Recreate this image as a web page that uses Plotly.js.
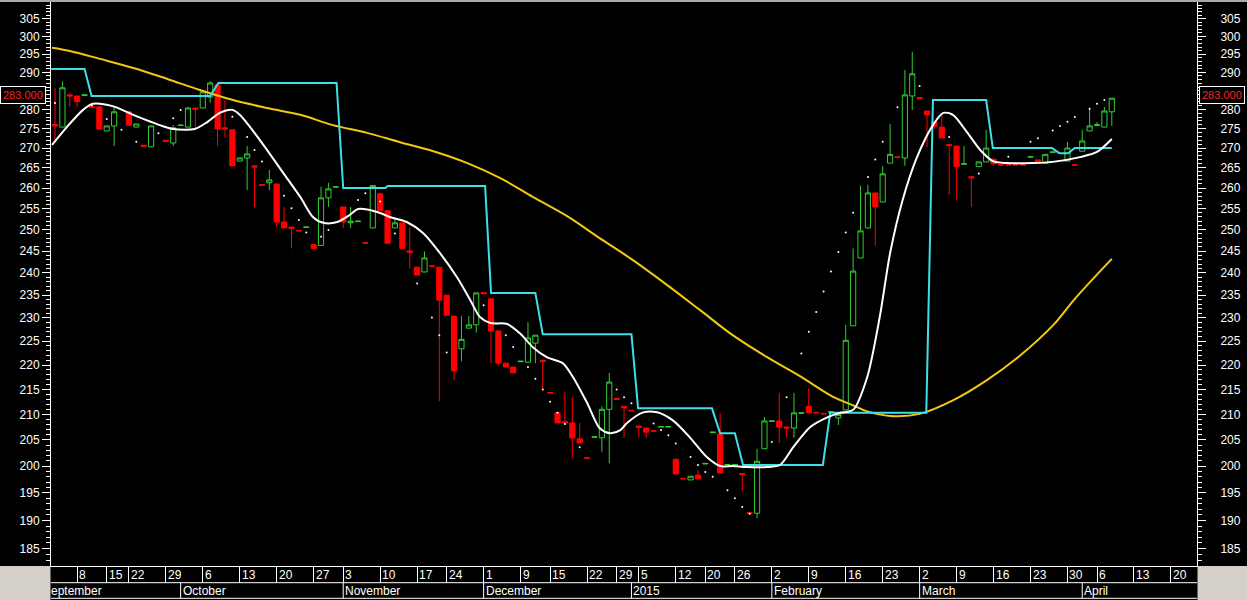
<!DOCTYPE html>
<html><head><meta charset="utf-8">
<script src="https://cdn.plot.ly/plotly-3.0.1.min.js"></script>
<style>html,body{margin:0;padding:0;background:#000;}#chart{width:1247px;height:600px;}</style>
</head><body><div id="chart"></div>
<script>
// ---- OHLC per trading day (index 0 = first visible session) ----
const opens = [276.1,275.4,283.9,283.6,283.7,280.8,280.7,274.4,275.7,null,
279.4,275.4,270.7,270.3,null,272.0,271.3,275.8,275.4,280.4,
280.4,283.3,286.6,275.2,274.7,266.7,267.5,265.5,260.9,261.3,
261.0,251.8,250.6,249.8,250.5,246.5,246.3,257.6,260.2,255.4,
251.6,251.9,246.9,250.4,258.6,254.5,250.4,251.6,245.0,241.3,
240.2,241.6,241.3,235.0,230.4,223.4,227.8,228.5,235.6,234.2,
227.2,220.4,219.6,220.7,220.6,224.6,221.0,214.4,210.3,208.6,
208.3,205.2,201.6,205.5,205.4,211.0,213.2,211.6,210.8,207.7,
207.3,206.8,207.5,207.5,201.3,197.7,197.4,198.3,200.4,206.4,
206.1,200.2,200.2,198.6,191.4,191.3,203.3,208.6,208.7,207.5,
207.3,210.2,211.6,210.4,210.2,210.4,209.3,210.9,228.3,243.4,
250.4,258.8,256.6,266.2,267.8,267.5,283.6,283.2,279.6,276.8,
275.4,270.9,270.5,265.9,262.8,265.3,266.5,267.2,265.8,265.8,
265.8,265.8,267.7,267.0,266.2,268.9,null,266.7,265.8,269.2,
274.4,275.8,275.4,279.4];
const highs = [285.8,287.5,284.3,283.6,283.9,280.8,280.7,275.7,280.7,null,
279.4,276.2,270.8,275.7,null,272.0,275.9,275.9,280.7,280.5,
284.7,287.6,286.6,282.5,274.7,267.5,270.5,265.5,261.0,264.5,
261.0,255.4,250.6,249.8,250.6,246.5,260.3,261.3,260.3,255.4,
255.4,252.0,246.9,260.6,258.6,254.5,252.8,251.6,250.4,241.3,
244.9,241.6,241.3,235.0,230.4,230.4,230.4,235.5,235.6,234.2,
227.2,220.4,219.6,220.8,229.1,226.3,221.0,214.4,210.3,214.5,
213.5,208.3,201.6,205.6,211.6,218.4,213.2,211.6,210.8,207.7,
207.3,206.8,207.6,207.6,201.3,197.7,198.1,199.2,200.5,206.5,
210.3,200.3,200.3,198.6,191.4,203.3,209.5,208.7,214.3,207.5,
214.3,210.3,215.2,210.4,210.2,210.6,210.0,228.5,245.6,260.6,
260.8,258.8,265.5,276.2,267.8,290.6,295.7,283.2,279.6,277.0,
278.6,270.9,270.5,270.5,262.8,266.5,274.7,267.2,265.8,265.8,
265.8,265.8,267.8,267.0,268.4,269.0,null,271.6,265.8,274.7,
280.4,276.7,280.7,283.0];
const lows = [271.3,275.4,280.7,280.7,283.7,280.5,274.9,274.4,270.5,null,
275.9,275.4,270.3,270.3,null,271.7,270.5,275.8,275.4,274.7,
280.4,281.8,270.5,272.8,265.5,266.7,259.5,255.4,260.7,259.5,
250.6,250.4,245.6,249.6,250.5,245.6,246.3,255.4,260.2,250.4,
250.4,251.9,246.8,250.4,254.5,246.8,250.4,245.6,240.9,239.5,
240.2,241.5,212.6,230.6,216.9,220.8,227.8,226.8,235.3,220.4,
219.8,219.6,218.4,220.7,220.6,220.4,214.9,214.3,208.3,208.3,
201.5,204.4,201.5,205.5,202.7,200.5,213.0,205.4,210.7,205.4,
205.4,206.7,207.5,207.5,198.5,197.6,197.4,197.6,200.4,206.4,
198.7,200.2,200.2,195.3,191.3,190.4,203.3,208.6,204.4,205.4,
205.4,210.2,210.3,210.3,210.1,210.3,207.9,210.9,228.3,243.4,
250.4,246.3,256.6,266.2,267.6,265.5,279.9,282.9,270.3,275.0,
272.6,258.3,257.1,265.9,255.4,265.3,266.5,265.5,265.7,265.7,
265.7,265.7,267.7,266.2,266.2,268.9,null,266.7,265.7,269.2,
274.4,275.8,275.4,275.7];
const closes = [275.7,285.8,283.6,282.1,283.9,280.6,274.9,275.7,279.4,null,
275.9,276.2,270.4,275.7,null,271.7,275.2,275.9,280.4,280.1,
284.7,287.1,274.9,274.9,265.5,267.5,268.5,265.2,260.7,262.0,
251.8,250.4,250.3,249.7,250.6,245.6,257.6,259.8,260.3,251.8,
252.0,252.0,246.8,260.6,254.5,246.8,251.6,245.6,244.7,239.5,
243.4,241.5,233.9,230.6,218.8,225.4,228.5,235.5,235.3,227.2,
220.4,219.6,218.4,220.8,225.7,226.3,220.7,214.3,208.3,208.3,
205.4,204.4,201.5,205.6,211.0,216.5,213.0,211.3,210.7,207.4,
206.5,206.7,207.6,207.6,198.5,197.6,198.1,197.6,200.5,206.5,
198.7,200.3,200.3,198.4,191.3,200.9,208.7,208.7,207.5,207.3,
210.3,210.3,210.3,210.3,210.1,210.5,210.0,225.2,240.4,249.7,
258.8,255.4,263.5,268.4,267.6,283.9,289.6,282.9,278.6,275.6,
272.6,270.6,265.3,266.0,262.5,266.5,270.0,266.0,265.7,265.7,
265.7,265.7,267.8,266.2,268.4,269.0,null,270.0,265.7,271.8,
275.7,276.0,279.6,283.0];

// ---- indicator lines (x = trading-day index) ----
const whiteIdx = [-0.4,1.6,3.8,5.1,7.8,10.6,14.2,16.0,18.9,20.6,22.3,24.0,25.0,27.7,30.9,33.2,34.9,36.3,38.2,39.9,41.0,43.6,45.3,47.6,49.8,52.1,54.4,56.2,57.5,58.9,61.2,62.9,64.7,66.6,68.7,70.1,72.0,73.7,75.1,76.5,77.4,79.6,81.5,83.6,85.9,88.2,90.0,91.7,93.6,96.3,98.1,99.9,102.2,104.5,106.2,108.0,109.9,111.6,113.0,114.7,116.6,118.8,120.2,121.5,123.4,125.2,126.9,128.8,132.3,135.0,138.7,141.0,143.0];
const whiteVal = [270.8,275.4,279.9,281.5,280.9,278.6,275.9,274.9,274.9,276.7,279.1,279.9,278.6,272.1,263.7,257.8,253.0,251.6,251.8,253.5,254.9,254.2,253.0,251.8,249.2,244.5,239.0,233.9,230.2,228.9,228.7,226.7,223.7,221.6,220.4,217.5,212.3,207.3,206.3,206.9,208.3,210.4,210.4,208.8,205.5,201.7,200.0,200.0,199.8,199.8,200.2,203.6,207.5,209.4,210.3,210.9,217.5,230.2,244.5,257.1,267.5,275.9,279.1,278.6,274.1,269.5,266.7,266.2,266.2,266.5,267.7,269.0,272.3];

const yellowIdx = [-0.4,2.0,6.1,10.6,15.2,19.6,24.1,28.7,33.2,37.6,42.2,46.7,51.2,55.8,60.2,64.7,69.3,73.7,78.2,82.8,87.3,91.7,96.3,100.8,105.3,108.0,109.9,113.0,117.0,121.5,126.1,130.6,135.1,138.0,143.0];
const yellowVal = [296.8,295.9,293.7,291.2,288.2,285.2,282.5,280.4,278.6,275.9,273.9,271.5,269.2,266.2,262.5,257.8,253.2,248.0,242.9,237.3,231.7,226.3,221.7,217.7,213.5,211.8,210.6,209.7,210.1,212.8,216.9,222.0,228.5,234.2,243.2];

const cyanIdx = [-0.5,4.0,4.95,21.0,22.1,38.1,39.0,44.7,45.0,58.2,59.0,65.0,66.0,78.0,78.9,88.9,90.0,92.0,93.1,103.9,104.9,117.9,118.8,126.0,126.9,134.9,135.9,137.1,138.0,143.0];
const cyanVal = [290.9,290.9,283.6,283.6,287.1,287.1,260.0,260.0,260.5,260.5,235.5,235.5,226.5,226.5,211.2,211.2,206.3,206.3,200.2,200.2,210.3,210.3,282.5,282.5,270.0,270.0,268.7,268.7,270.0,270.0];

const dotIdx = [0,5,7,9,11,14,16,17,24,26,27,28,31,32,33,34,36,37,41,42,44,46,49,51,52,53,58,61,62,64,65,66,67,68,69,71,76,77,78,81,82,83,84,86,87,88,89,91,92,93,94,97,99,101,102,103,104,105,106,107,108,110,111,112,114,117,121,125,129,132,133,135,136,137,138,140,141,142];
const dotVal = [281.7,281.1,277.5,274.7,271.6,273.8,277.7,279.9,278.1,272.8,269.5,266.6,258.1,255.1,252.3,249.3,248.3,249.9,257.1,258.7,256.7,249.1,237.6,230.1,226.3,222.6,232.8,226.3,223.8,219.6,217.2,215.0,212.5,210.3,208.1,203.6,215.0,213.4,212.2,208.2,206.9,205.9,204.3,201.7,200.2,198.9,198.0,195.5,194.0,192.4,191.2,204.6,213.4,222.4,227.0,231.3,235.8,240.3,244.8,249.3,254.0,262.7,267.1,271.6,280.6,286.3,272.8,263.6,267.8,271.6,272.5,274.5,275.7,276.8,278.0,280.2,281.5,282.5];

// ---- axis labels ----
const yTicks = [185,190,195,200,205,210,215,220,225,230,235,240,245,250,255,260,265,270,275,280,285,290,295,300,305];
// 285 sits under the last-price flag in the reference, so its text is hidden
const yTickText = ['185','190','195','200','205','210','215','220','225','230','235','240','245','250','255','260','265','270','275','280','','290','295','300','305'];
const weekIdx = [3,7,10,15,20,25,30,35,39,44,49,53,58,63,67,72,76,79,84,88,92,97,102,107,112,117,122,127,132,137,141,146,151];
const weekLabels = ['8','15','22','29','6','13','20','27','3','10','17','24','1','9','15','22','29','5','12','20','26','2','9','16','23','2','9','16','23','30','6','13','20'];
const monthIdx = [17,39,58,78,97,117,139];
const monthLabels = ['October','November','December','2015','February','March','April'];
const firstMonthLabel = 'eptember';

// ---- build ----
const X=[],O=[],H=[],L=[],C=[];
for(let i=0;i<closes.length;i++){
  if(opens[i]==null||closes[i]==null) continue;
  X.push(i);O.push(opens[i]);H.push(highs[i]);L.push(lows[i]);C.push(closes[i]);
}
const lastIdx = closes.length-1;
const lastClose = closes[lastIdx];

const FONT = 'Liberation Sans, Arial, sans-serif';
const PH = 564; // plot height px
const stripMid = -(16.7/PH), stripBot = -(32.3/PH);

const traces = [
  {type:'candlestick', x:X, open:O, high:H, low:L, close:C,
   increasing:{line:{color:'#33cc33',width:1}, fillcolor:'rgba(0,0,0,0)'},
   decreasing:{line:{color:'#ff0000',width:1}, fillcolor:'#ff0000'},
   whiskerwidth:0, hoverinfo:'skip', showlegend:false},
  {type:'scatter', mode:'markers', x:dotIdx, y:dotVal, marker:{color:'#ffffff',size:2}, hoverinfo:'skip'},
  {type:'scatter', mode:'lines', x:yellowIdx, y:yellowVal, line:{color:'#f2c812',width:2,shape:'spline'}, hoverinfo:'skip'},
  {type:'scatter', mode:'lines', x:cyanIdx, y:cyanVal, line:{color:'#3ee0e6',width:2}, hoverinfo:'skip'},
  {type:'scatter', mode:'lines', x:whiteIdx, y:whiteVal, line:{color:'#ffffff',width:2,shape:'spline',smoothing:0.8}, hoverinfo:'skip'},
  {type:'scatter', mode:'markers', x:[lastIdx], y:[lastClose], yaxis:'y2', marker:{opacity:0}, hoverinfo:'skip'}
];

const minor = [];
for(let v=182; v<=310; v++){ if(v%5!==0) minor.push(v); }

const yr = [Math.log10(182.0), Math.log10(309.9)];
const yAxisCommon = {
  type:'log', range:yr, tickmode:'array', tickvals:yTicks, ticktext:yTickText,
  ticks:'outside', ticklen:8, tickcolor:'#ffffff', tickwidth:1,
  showline:true, linecolor:'#ffffff', linewidth:1, showgrid:false, zeroline:false,
  tickfont:{family:FONT,size:12,color:'#ffffff'},
  minor:{tickmode:'array', tickvals:minor, ticks:'outside', ticklen:4, tickcolor:'#ffffff', tickwidth:1, showgrid:false},
  fixedrange:true
};

const annotations = [];
weekIdx.forEach((d,k)=>annotations.push({xref:'x',yref:'paper',x:d,y:-(8.5/PH),xanchor:'left',yanchor:'middle',xshift:0,
  text:weekLabels[k],showarrow:false,font:{family:FONT,size:12,color:'#ffffff'}}));
monthIdx.forEach((d,k)=>annotations.push({xref:'x',yref:'paper',x:d,y:-(24.5/PH),xanchor:'left',yanchor:'middle',xshift:0,
  text:monthLabels[k],showarrow:false,font:{family:FONT,size:12,color:'#ffffff'}}));
annotations.push({xref:'paper',yref:'paper',x:0,y:-(24.5/PH),xanchor:'left',yanchor:'middle',xshift:-2,
  text:firstMonthLabel,showarrow:false,font:{family:FONT,size:12,color:'#ffffff'}});
// last price flags
[{x:0,xa:'right',xs:-5},{x:1,xa:'left',xs:2}].forEach(p=>annotations.push({
  xref:'paper',yref:'y',x:p.x,y:Math.log10(lastClose),xanchor:p.xa,yanchor:'middle',xshift:p.xs,yshift:3,
  text:lastClose.toFixed(3),showarrow:false,bgcolor:'#000000',bordercolor:'#ffffff',borderwidth:1,borderpad:2,
  font:{family:FONT,size:11,color:'#ff2020'}}));

const shapes = [
  {type:'line',xref:'paper',yref:'paper',x0:0,x1:1,y0:stripMid,y1:stripMid,line:{color:'#ffffff',width:1}},
  {type:'line',xref:'paper',yref:'paper',x0:0,x1:1,y0:stripBot,y1:stripBot,line:{color:'#ffffff',width:1}},
  {type:'rect',xref:'paper',yref:'paper',x0:-51/1146,x1:-0.5/1146,y0:0,y1:-34/PH,fillcolor:'#d4d0c8',line:{width:0}},
  {type:'rect',xref:'paper',yref:'paper',x0:1+0.5/1146,x1:1+50/1146,y0:0,y1:-34/PH,fillcolor:'#d4d0c8',line:{width:0}},
  {type:'line',xref:'paper',yref:'paper',x0:-51/1146,x1:1+50/1146,y0:1+1/PH,y1:1+1/PH,line:{color:'#a8a8a8',width:2}}
];
monthIdx.forEach(d=>shapes.push({type:'line',xref:'x',yref:'paper',x0:d,x1:d,y0:stripMid,y1:stripBot,line:{color:'#ffffff',width:1}}));

const layout = {
  width:1247, height:600,
  margin:{l:51,r:50,t:2,b:34,pad:0},
  paper_bgcolor:'#000000', plot_bgcolor:'#000000',
  showlegend:false, hovermode:false, dragmode:false,
  boxgap:0.3, boxgroupgap:0,
  xaxis:{type:'linear', range:[-0.541,154.53], showgrid:false, zeroline:false,
    showline:true, linecolor:'#ffffff', linewidth:1,
    tickmode:'array', tickvals:weekIdx, ticktext:weekLabels, showticklabels:false,
    ticks:'outside', ticklen:16, tickcolor:'#ffffff', tickwidth:1,
    rangeslider:{visible:false}, fixedrange:true},
  yaxis:Object.assign({side:'left'}, yAxisCommon),
  yaxis2:Object.assign({side:'right', overlaying:'y', ticklabelstandoff:12}, yAxisCommon),
  annotations, shapes
};

Plotly.newPlot('chart', traces, layout, {staticPlot:true, displayModeBar:false});
</script>
</body></html>
